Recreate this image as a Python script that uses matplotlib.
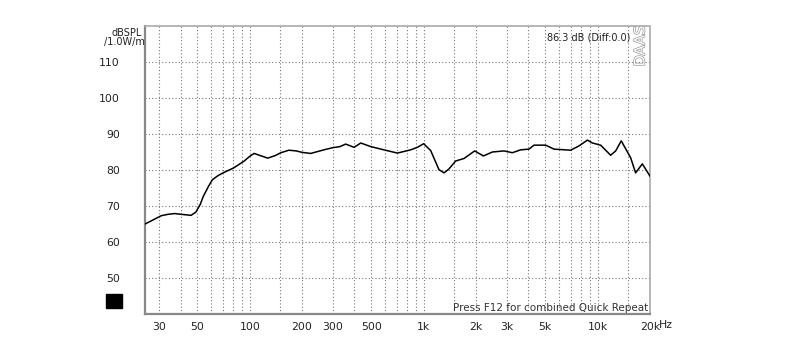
import matplotlib
matplotlib.use("Agg")
import matplotlib.pyplot as plt
import matplotlib.patheffects as pe
from matplotlib.patches import Rectangle

freq = [25, 28, 31, 34, 37, 42, 46, 49, 52, 54, 58, 61, 66, 71, 81, 93, 100, 106,
        115, 127, 140, 151, 168, 185, 200, 224, 267, 300, 330, 356, 398, 435, 496,
        591, 706, 842, 920, 1000, 1097, 1224, 1309, 1398, 1527, 1706, 1964, 2204,
        2483, 2893, 3235, 3609, 4030, 4305, 5024, 5612, 6997, 7818, 8733, 9336,
        10405, 11880, 12700, 13670, 15480, 16530, 18070, 20000]
spl = [65.0, 66.2, 67.3, 67.7, 67.9, 67.6, 67.4, 68.3, 70.5, 72.6, 75.5, 77.3, 78.5,
       79.3, 80.6, 82.5, 83.8, 84.6, 84.0, 83.3, 84.0, 84.8, 85.5, 85.3, 84.9, 84.6,
       85.6, 86.2, 86.5, 87.2, 86.3, 87.5, 86.5, 85.6, 84.7, 85.6, 86.3, 87.3, 85.4,
       80.1, 79.2, 80.3, 82.5, 83.2, 85.3, 83.9, 85.0, 85.3, 84.8, 85.6, 85.8, 86.9,
       86.9, 85.8, 85.5, 86.7, 88.3, 87.5, 86.9, 84.1, 85.3, 88.1, 83.4, 79.2, 81.7,
       78.3]

x_label_pos = [30, 50, 100, 200, 300, 500, 1000, 2000, 3000, 5000, 10000, 20000]
x_labels = ["30", "50", "100", "200", "300", "500", "1k", "2k", "3k", "5k", "10k", "20k"]
x_grid = [30, 40, 50, 60, 70, 80, 90, 100, 150, 200, 300, 400, 500, 600, 700, 800, 900,
          1000, 1500, 2000, 3000, 4000, 5000, 6000, 7000, 8000, 9000, 10000, 15000]
y_ticks = [50, 60, 70, 80, 90, 100, 110]

fig = plt.figure(figsize=(8.0, 3.59), dpi=100)
ax = fig.add_axes([145/800, 45/359, 505/800, 288/359])
ax.set_xscale("log")
ax.set_xlim(25, 20000)
ax.set_ylim(40, 120)

for xv in x_grid:
    ax.axvline(xv, color="#777777", lw=0.8, ls=(0, (1, 2)), zorder=1)
for yv in y_ticks:
    ax.axhline(yv, color="#777777", lw=0.8, ls=(0, (1, 2)), zorder=1)

ax.plot(freq, spl, color="black", lw=1.1, zorder=3)

ax.set_xticks(x_label_pos)
ax.set_xticklabels(x_labels)
ax.xaxis.set_minor_locator(matplotlib.ticker.NullLocator())
ax.set_yticks(y_ticks)
ax.set_yticklabels([str(v) for v in y_ticks])
ax.tick_params(axis="both", length=0, labelsize=7.8, colors="#222222")
ax.tick_params(axis="x", pad=6)
ax.tick_params(axis="y", pad=18)

for s in ["left", "bottom"]:
    ax.spines[s].set_color("#888888")
    ax.spines[s].set_linewidth(1.6)
for s in ["top", "right"]:
    ax.spines[s].set_color("#aaaaaa")
    ax.spines[s].set_linewidth(1.2)
    ax.spines[s].set_linestyle((0, (2, 1)))

fig.text(142/800, 1 - 33/359, "dBSPL", ha="right", va="center", fontsize=7, color="#222222")
fig.text(145/800, 1 - 42/359, "/1.0W/m", ha="right", va="center", fontsize=7, color="#222222")
fig.text(659/800, 1 - 325/359, "Hz", ha="left", va="center", fontsize=7.8, color="#222222")

fig.text(630/800, 1 - 38/359, "86.3 dB (Diff:0.0)", ha="right", va="center",
         fontsize=7, color="#222222")
fig.text(648/800, 1 - 311/359, "Press F12 for combined Quick Repeat", ha="right",
         va="baseline", fontsize=7.5, color="#333333")
t = fig.text(640/800, 1 - 46/359, "DAAS", ha="center", va="center", rotation=90,
             fontsize=10.5, color="white")
t.set_path_effects([pe.withStroke(linewidth=1.0, foreground="#999999")])

fig.patches.append(Rectangle((106/800, 1 - 308/359), 16/800, 14/359,
                             transform=fig.transFigure, color="black"))

fig.savefig("out.png", dpi=100)
